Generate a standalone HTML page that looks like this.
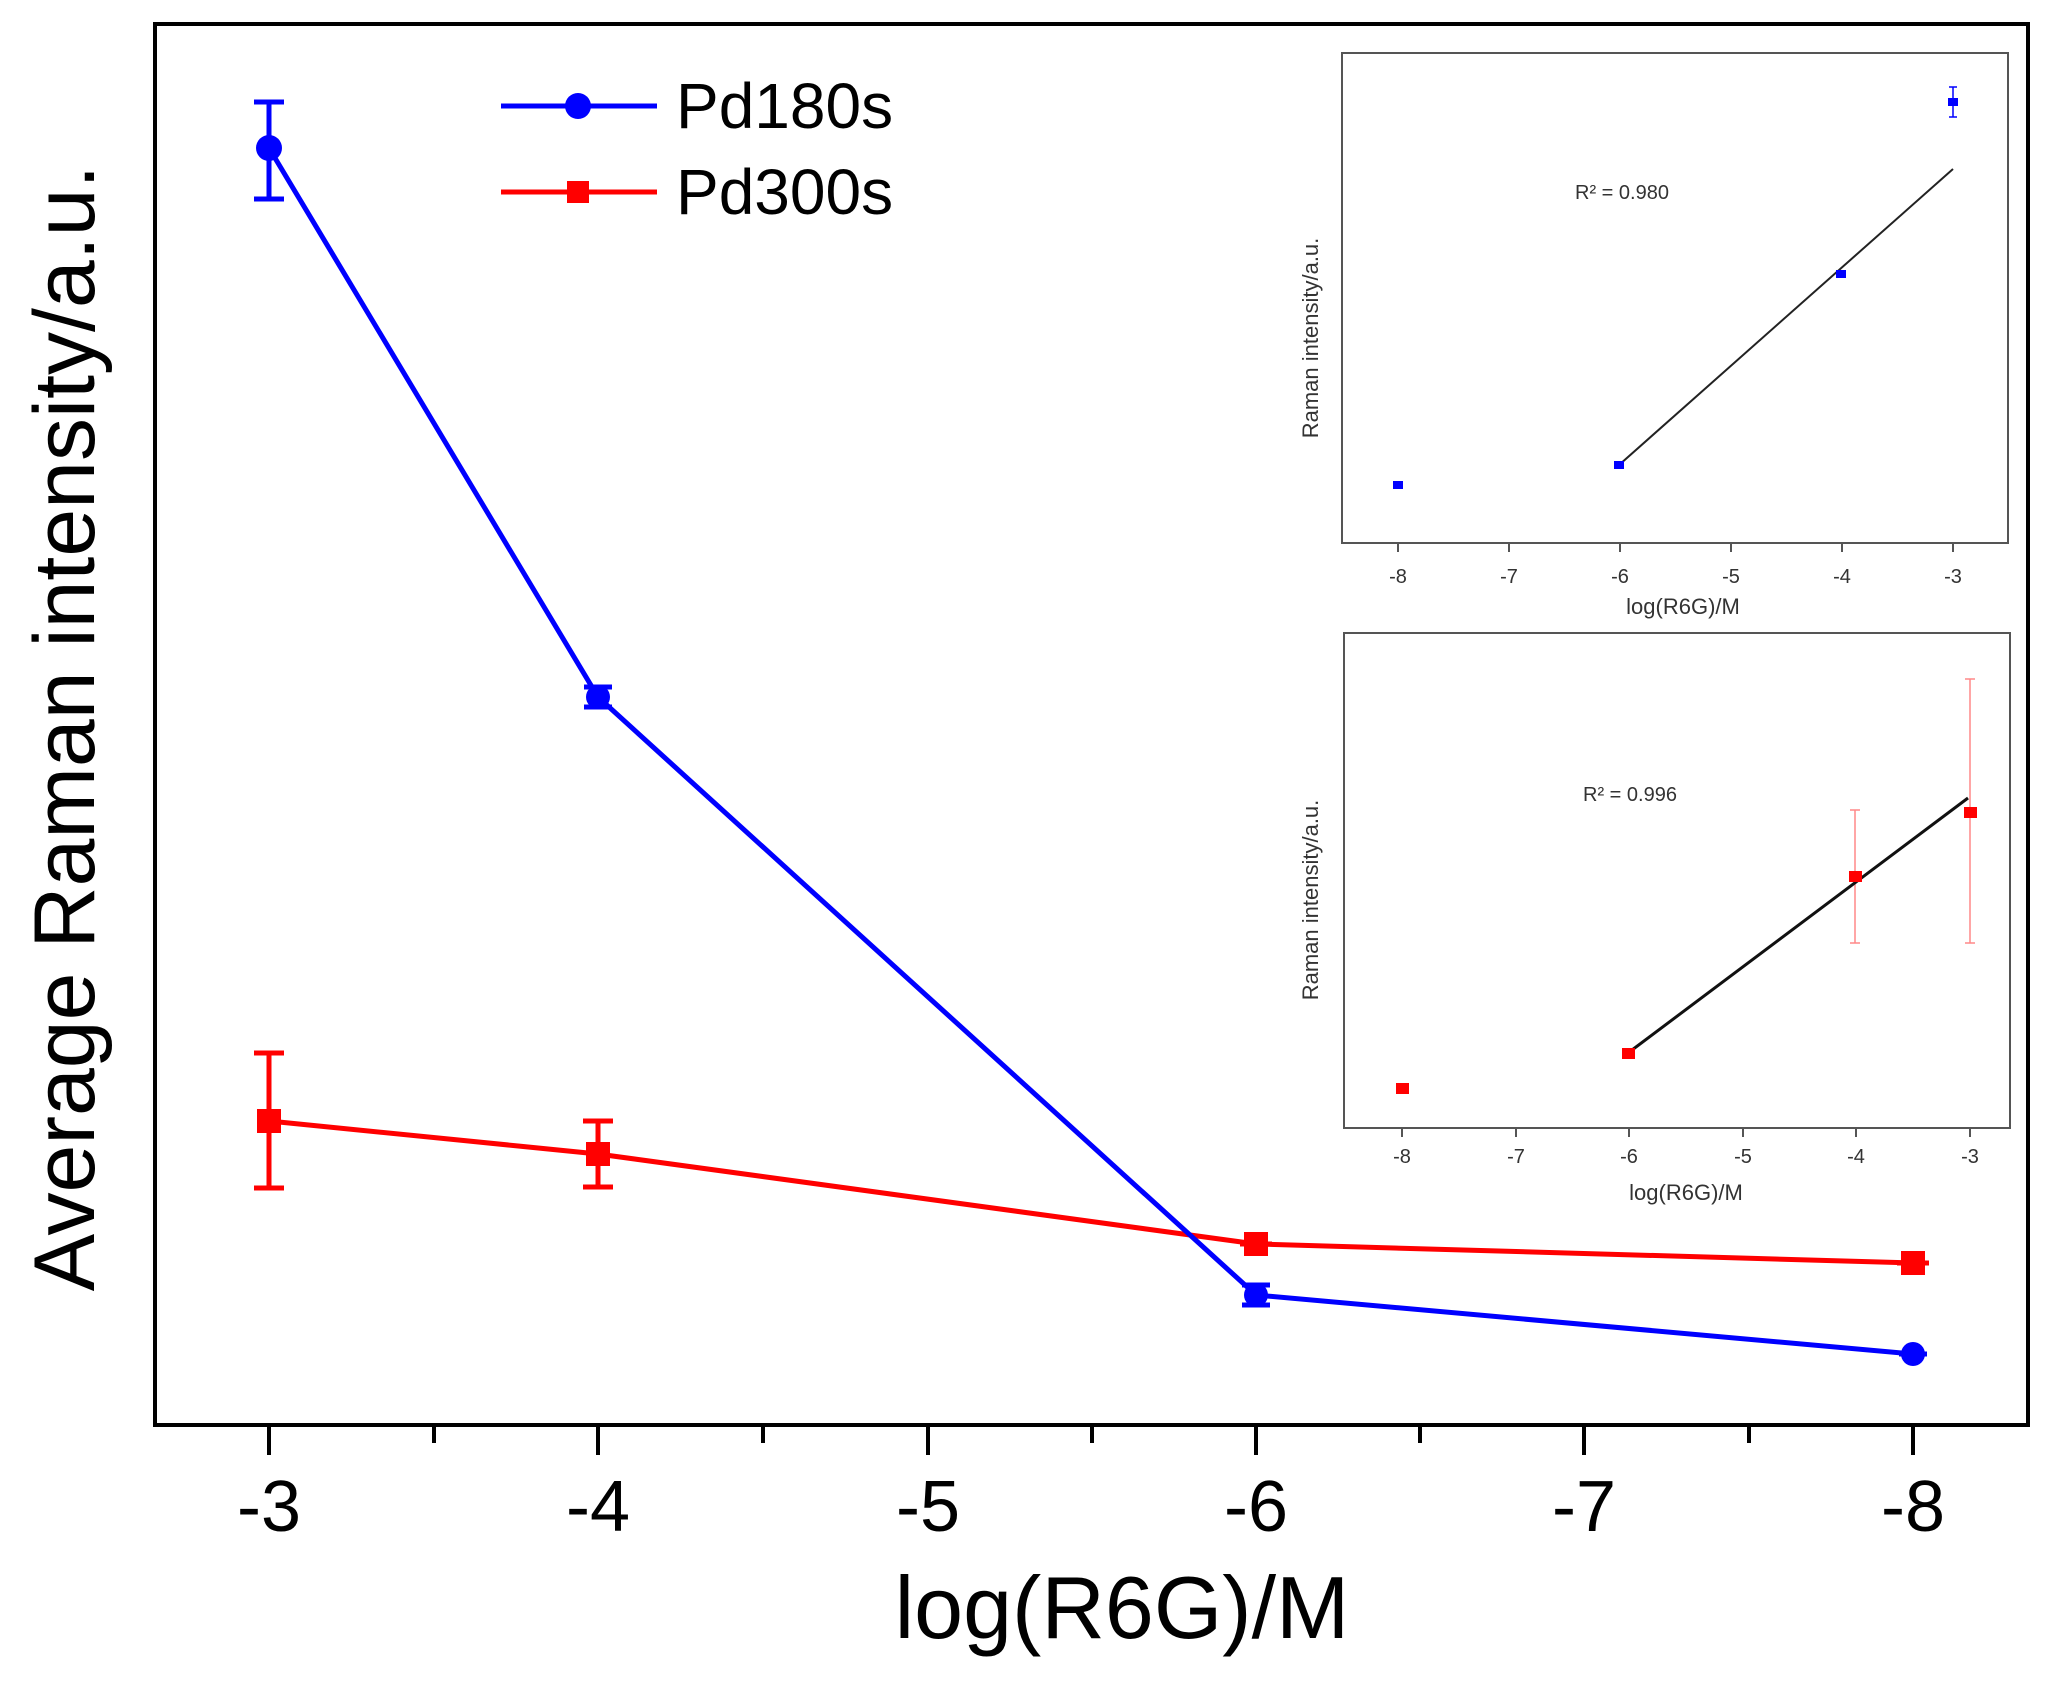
<!DOCTYPE html>
<html><head><meta charset="utf-8"><style>
html,body{margin:0;padding:0;background:#fff;}
svg{display:block;font-family:"Liberation Sans",Arial,sans-serif;}
</style></head><body>
<svg width="2066" height="1691" viewBox="0 0 2066 1691" xmlns="http://www.w3.org/2000/svg">
<rect width="2066" height="1691" fill="#fff"/>
<rect x="155" y="24" width="1873" height="1401" fill="none" stroke="#000" stroke-width="4"/>
<g stroke="#000" stroke-width="4">
<line x1="269" y1="1425" x2="269" y2="1455"/><line x1="434" y1="1425" x2="434" y2="1443"/>
<line x1="598" y1="1425" x2="598" y2="1455"/><line x1="763" y1="1425" x2="763" y2="1443"/>
<line x1="928" y1="1425" x2="928" y2="1455"/><line x1="1092" y1="1425" x2="1092" y2="1443"/>
<line x1="1256" y1="1425" x2="1256" y2="1455"/><line x1="1420" y1="1425" x2="1420" y2="1443"/>
<line x1="1584" y1="1425" x2="1584" y2="1455"/><line x1="1749" y1="1425" x2="1749" y2="1443"/>
<line x1="1913" y1="1425" x2="1913" y2="1455"/>
</g>
<g font-size="72" text-anchor="middle" fill="#000">
<text x="269" y="1531">-3</text><text x="598" y="1531">-4</text><text x="928" y="1531">-5</text>
<text x="1256" y="1531">-6</text><text x="1584" y="1531">-7</text><text x="1913" y="1531">-8</text>
</g>
<text x="1122" y="1638" font-size="88" text-anchor="middle">log(R6G)/M</text>
<text transform="translate(94,728) rotate(-90)" font-size="86" text-anchor="middle">Average Raman intensity/a.u.</text>
<g stroke="#f00" stroke-width="5" fill="#f00">
<polyline points="269,1121 598,1154 1256,1244 1913,1263" fill="none"/>
<line x1="269" y1="1053" x2="269" y2="1188"/><line x1="254" y1="1053" x2="284" y2="1053"/><line x1="254" y1="1188" x2="284" y2="1188"/>
<line x1="598" y1="1121" x2="598" y2="1187"/><line x1="583" y1="1121" x2="613" y2="1121"/><line x1="583" y1="1187" x2="613" y2="1187"/>
<rect x="257" y="1109" width="24" height="24" stroke="none"/>
<rect x="586" y="1142" width="24" height="24" stroke="none"/>
<rect x="1244" y="1232" width="24" height="24" stroke="none"/>
<rect x="1901" y="1251" width="24" height="24" stroke="none"/>
<line x1="1240" y1="1244" x2="1272" y2="1244"/><line x1="1897" y1="1263" x2="1929" y2="1263"/>
</g>
<g stroke="#00f" stroke-width="5" fill="#00f">
<polyline points="269,148 598,697 1256,1295 1913,1354" fill="none"/>
<line x1="269" y1="102" x2="269" y2="199"/><line x1="254" y1="102" x2="284" y2="102"/><line x1="254" y1="199" x2="284" y2="199"/>
<circle cx="269" cy="148" r="13" stroke="none"/>
<circle cx="598" cy="697" r="12" stroke="none"/><line x1="584" y1="687" x2="612" y2="687"/><line x1="584" y1="707" x2="612" y2="707"/>
<circle cx="1256" cy="1295" r="12" stroke="none"/><line x1="1242" y1="1285" x2="1270" y2="1285"/><line x1="1242" y1="1305" x2="1270" y2="1305"/>
<circle cx="1913" cy="1354" r="12" stroke="none"/><line x1="1899" y1="1354" x2="1927" y2="1354"/>
</g>
<line x1="501" y1="106" x2="657" y2="106" stroke="#00f" stroke-width="5"/>
<circle cx="578" cy="106" r="13" fill="#00f"/>
<text x="676" y="128" font-size="64">Pd180s</text>
<line x1="501" y1="192" x2="657" y2="192" stroke="#f00" stroke-width="5"/>
<rect x="567" y="181" width="22" height="22" fill="#f00"/>
<text x="676" y="214" font-size="64">Pd300s</text>
<rect x="1342" y="53" width="666" height="490" fill="none" stroke="#555" stroke-width="2"/>
<g stroke="#555" stroke-width="2">
<line x1="1398" y1="543" x2="1398" y2="552"/><line x1="1509" y1="543" x2="1509" y2="552"/><line x1="1620" y1="543" x2="1620" y2="552"/>
<line x1="1731" y1="543" x2="1731" y2="552"/><line x1="1842" y1="543" x2="1842" y2="552"/><line x1="1953" y1="543" x2="1953" y2="552"/>
</g>
<g font-size="20" text-anchor="middle" fill="#333">
<text x="1398" y="583">-8</text><text x="1509" y="583">-7</text><text x="1620" y="583">-6</text>
<text x="1731" y="583">-5</text><text x="1842" y="583">-4</text><text x="1953" y="583">-3</text>
<text x="1683" y="614" font-size="22">log(R6G)/M</text>
<text x="1622" y="199" font-size="20">R² = 0.980</text>
</g>
<text transform="translate(1318,338) rotate(-90)" font-size="22" text-anchor="middle" fill="#333">Raman intensity/a.u.</text>
<line x1="1619" y1="465" x2="1953" y2="169" stroke="#222" stroke-width="2"/>
<g fill="#00f">
<rect x="1393" y="481" width="10" height="8"/><rect x="1614" y="461" width="10" height="8"/>
<rect x="1836" y="270" width="10" height="8"/><rect x="1948" y="98" width="10" height="8"/>
</g>
<g stroke="#00f" stroke-width="1.5"><line x1="1953" y1="87" x2="1953" y2="117"/><line x1="1949" y1="87" x2="1957" y2="87"/><line x1="1949" y1="117" x2="1957" y2="117"/></g>
<rect x="1344" y="633" width="666" height="495" fill="none" stroke="#555" stroke-width="2"/>
<g stroke="#555" stroke-width="2">
<line x1="1402" y1="1128" x2="1402" y2="1137"/><line x1="1516" y1="1128" x2="1516" y2="1137"/><line x1="1629" y1="1128" x2="1629" y2="1137"/>
<line x1="1743" y1="1128" x2="1743" y2="1137"/><line x1="1856" y1="1128" x2="1856" y2="1137"/><line x1="1970" y1="1128" x2="1970" y2="1137"/>
</g>
<g font-size="20" text-anchor="middle" fill="#333">
<text x="1402" y="1163">-8</text><text x="1516" y="1163">-7</text><text x="1629" y="1163">-6</text>
<text x="1743" y="1163">-5</text><text x="1856" y="1163">-4</text><text x="1970" y="1163">-3</text>
<text x="1686" y="1200" font-size="22">log(R6G)/M</text>
<text x="1630" y="801" font-size="20">R² = 0.996</text>
</g>
<text transform="translate(1318,900) rotate(-90)" font-size="22" text-anchor="middle" fill="#333">Raman intensity/a.u.</text>
<g stroke="#f88" stroke-width="1.5">
<line x1="1855" y1="810" x2="1855" y2="943"/><line x1="1850" y1="810" x2="1860" y2="810"/><line x1="1850" y1="943" x2="1860" y2="943"/>
<line x1="1970" y1="679" x2="1970" y2="943"/><line x1="1965" y1="679" x2="1975" y2="679"/><line x1="1965" y1="943" x2="1975" y2="943"/>
</g>
<line x1="1628" y1="1053" x2="1968" y2="798" stroke="#111" stroke-width="3"/>
<g fill="#f00">
<rect x="1396" y="1083" width="13" height="11"/><rect x="1622" y="1048" width="13" height="11"/>
<rect x="1849" y="871" width="13" height="11"/><rect x="1964" y="807" width="13" height="11"/>
</g>
</svg>
</body></html>
